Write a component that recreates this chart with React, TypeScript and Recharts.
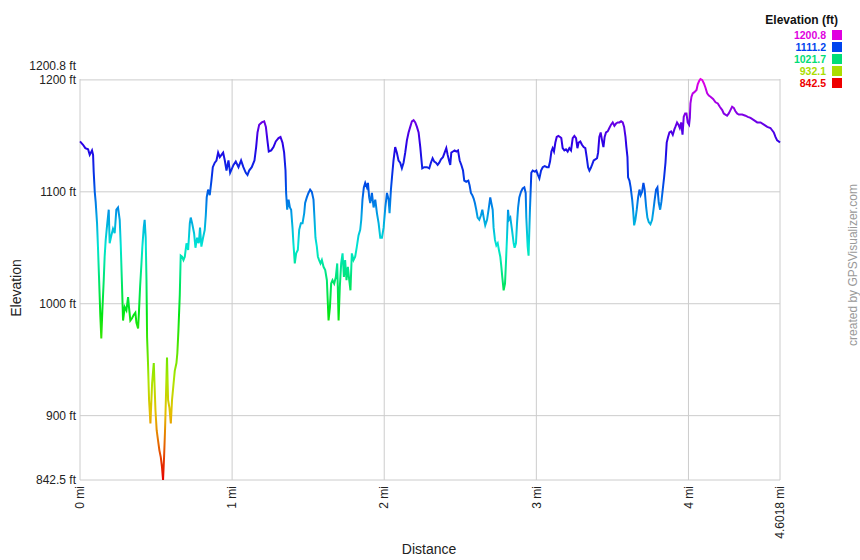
import { CartesianGrid, Line, LineChart, ReferenceLine, XAxis, YAxis } from 'recharts'

// elevation profile
const distanceMi = [
  0, 0.02, 0.035, 0.053, 0.064, 0.079, 0.086, 0.09, 0.097, 0.103, 0.112, 0.118, 0.125, 0.134, 0.14, 0.147, 0.156,
  0.162, 0.169, 0.178, 0.189, 0.195, 0.206, 0.217, 0.228, 0.239, 0.25, 0.261, 0.268, 0.276, 0.283, 0.294, 0.305,
  0.316, 0.322, 0.331, 0.342, 0.353, 0.364, 0.371, 0.382, 0.388, 0.395, 0.404, 0.41, 0.419, 0.425, 0.432, 0.437,
  0.441, 0.447, 0.454, 0.463, 0.474, 0.485, 0.496, 0.504, 0.513, 0.522, 0.531, 0.539, 0.546, 0.553, 0.559, 0.566,
  0.572, 0.579, 0.588, 0.597, 0.605, 0.614, 0.623, 0.634, 0.64, 0.647, 0.656, 0.662, 0.671, 0.68, 0.689, 0.7,
  0.711, 0.722, 0.728, 0.737, 0.75, 0.759, 0.77, 0.781, 0.789, 0.798, 0.809, 0.82, 0.827, 0.833, 0.842, 0.853,
  0.864, 0.873, 0.886, 0.897, 0.908, 0.919, 0.93, 0.941, 0.952, 0.963, 0.976, 0.987, 1.009, 1.024, 1.042, 1.059,
  1.074, 1.09, 1.101, 1.112, 1.129, 1.147, 1.158, 1.167, 1.178, 1.195, 1.211, 1.222, 1.232, 1.241, 1.257, 1.272,
  1.287, 1.305, 1.318, 1.331, 1.342, 1.351, 1.355, 1.362, 1.371, 1.38, 1.388, 1.397, 1.403, 1.412, 1.421, 1.432,
  1.441, 1.452, 1.463, 1.474, 1.48, 1.491, 1.502, 1.513, 1.524, 1.535, 1.542, 1.548, 1.557, 1.564, 1.572, 1.581,
  1.59, 1.601, 1.612, 1.623, 1.634, 1.643, 1.651, 1.66, 1.671, 1.682, 1.691, 1.7, 1.708, 1.717, 1.726, 1.735,
  1.743, 1.752, 1.761, 1.77, 1.778, 1.787, 1.798, 1.809, 1.82, 1.831, 1.842, 1.849, 1.857, 1.866, 1.875, 1.886,
  1.893, 1.901, 1.908, 1.919, 1.93, 1.941, 1.952, 1.963, 1.974, 1.985, 1.996, 2.007, 2.018, 2.029, 2.035, 2.044,
  2.051, 2.061, 2.072, 2.083, 2.094, 2.105, 2.116, 2.127, 2.138, 2.149, 2.16, 2.171, 2.182, 2.193, 2.204, 2.215,
  2.226, 2.237, 2.243, 2.25, 2.263, 2.281, 2.296, 2.307, 2.318, 2.329, 2.34, 2.351, 2.362, 2.373, 2.386, 2.397,
  2.408, 2.417, 2.426, 2.434, 2.441, 2.452, 2.463, 2.474, 2.485, 2.496, 2.507, 2.518, 2.526, 2.539, 2.553, 2.561,
  2.57, 2.579, 2.588, 2.596, 2.605, 2.614, 2.625, 2.636, 2.645, 2.654, 2.664, 2.676, 2.686, 2.697, 2.704, 2.713,
  2.719, 2.728, 2.737, 2.746, 2.754, 2.763, 2.77, 2.776, 2.785, 2.794, 2.8, 2.807, 2.814, 2.82, 2.829, 2.84,
  2.851, 2.857, 2.866, 2.873, 2.88, 2.888, 2.899, 2.91, 2.921, 2.93, 2.934, 2.943, 2.949, 2.954, 2.958, 2.967,
  2.976, 2.989, 3.0, 3.011, 3.02, 3.031, 3.042, 3.055, 3.07, 3.081, 3.09, 3.099, 3.107, 3.116, 3.125, 3.134,
  3.145, 3.156, 3.164, 3.173, 3.184, 3.195, 3.206, 3.217, 3.228, 3.239, 3.25, 3.261, 3.27, 3.278, 3.289, 3.3,
  3.311, 3.322, 3.331, 3.34, 3.349, 3.357, 3.366, 3.377, 3.388, 3.399, 3.406, 3.414, 3.423, 3.432, 3.441, 3.449,
  3.458, 3.469, 3.48, 3.491, 3.502, 3.513, 3.524, 3.535, 3.546, 3.557, 3.568, 3.577, 3.586, 3.592, 3.599, 3.603,
  3.612, 3.62, 3.63, 3.636, 3.643, 3.651, 3.66, 3.669, 3.678, 3.686, 3.695, 3.704, 3.712, 3.722, 3.73, 3.739,
  3.75, 3.761, 3.77, 3.778, 3.787, 3.796, 3.805, 3.814, 3.822, 3.831, 3.84, 3.849, 3.857, 3.866, 3.875, 3.886,
  3.897, 3.908, 3.914, 3.925, 3.934, 3.943, 3.952, 3.961, 3.969, 3.978, 3.987, 3.995, 4.004, 4.009, 4.013, 4.02,
  4.028, 4.039, 4.053, 4.061, 4.07, 4.079, 4.09, 4.101, 4.112, 4.123, 4.134, 4.145, 4.162, 4.178, 4.193, 4.206,
  4.222, 4.232, 4.243, 4.254, 4.265, 4.276, 4.287, 4.298, 4.309, 4.32, 4.331, 4.353, 4.375, 4.39, 4.408, 4.43,
  4.452, 4.474, 4.496, 4.518, 4.539, 4.55, 4.561, 4.572, 4.583, 4.594, 4.6018,
]

const elevationFt = [
  1145, 1142, 1139, 1138, 1133, 1137, 1133, 1118, 1100, 1091, 1072, 1051, 1024, 988, 969, 994, 1021,
  1042, 1057, 1070, 1084, 1054, 1061, 1067, 1063, 1084, 1086, 1075, 1052, 1017, 985, 997, 994,
  1006, 997, 985, 987, 990, 992, 983, 978, 994, 1015, 1036, 1051, 1068, 1075, 1059, 1021,
  970, 947, 914, 893, 929, 947, 905, 887, 878, 869, 863, 854, 842.5, 864, 887, 922,
  952, 914, 907, 893, 914, 927, 940, 947, 956, 976, 1008, 1043, 1042, 1039, 1042, 1054,
  1048, 1072, 1077, 1072, 1063, 1050, 1059, 1054, 1068, 1051, 1059, 1066, 1079, 1095, 1102, 1097,
  1110, 1122, 1126, 1128, 1135, 1131, 1133, 1135, 1128, 1119, 1128, 1117, 1124, 1127, 1122, 1128,
  1122, 1117, 1115, 1119, 1122, 1128, 1140, 1153, 1160, 1162, 1163, 1158, 1146, 1136, 1137, 1140,
  1145, 1148, 1149, 1144, 1135, 1119, 1099, 1084, 1093, 1086, 1084, 1068, 1054, 1036, 1045, 1048,
  1066, 1072, 1072, 1081, 1090, 1095, 1099, 1102, 1100, 1093, 1075, 1059, 1051, 1042, 1039, 1036,
  1039, 1033, 1030, 1021, 985, 997, 1018, 1021, 1018, 1024, 1036, 985, 1015, 1036, 1045, 1024,
  1039, 1021, 1033, 1021, 1012, 1045, 1039, 1042, 1051, 1061, 1066, 1075, 1093, 1104, 1108, 1104,
  1108, 1095, 1090, 1099, 1086, 1093, 1081, 1072, 1059, 1059, 1068, 1086, 1099, 1093, 1081, 1102,
  1113, 1128, 1140, 1135, 1128, 1126, 1121, 1126, 1135, 1146, 1153, 1158, 1163, 1164, 1162, 1158,
  1153, 1140, 1131, 1121, 1122, 1122, 1121, 1126, 1130, 1127, 1126, 1124, 1126, 1129, 1131, 1135,
  1139, 1133, 1128, 1124, 1135, 1136, 1137, 1136, 1137, 1128, 1124, 1119, 1110, 1109, 1110, 1106,
  1099, 1097, 1094, 1090, 1084, 1077, 1075, 1079, 1084, 1077, 1070, 1075, 1084, 1095, 1090, 1084,
  1068, 1057, 1052, 1054, 1048, 1042, 1033, 1024, 1012, 1018, 1036, 1059, 1084, 1075, 1077, 1066,
  1054, 1050, 1054, 1072, 1086, 1095, 1100, 1103, 1104, 1099, 1077, 1051, 1043, 1066, 1084, 1117,
  1119, 1118, 1119, 1115, 1112, 1119, 1122, 1123, 1122, 1122, 1127, 1136, 1139, 1136, 1144, 1149,
  1150, 1149, 1148, 1139, 1137, 1138, 1136, 1139, 1137, 1148, 1150, 1148, 1139, 1144, 1145, 1142,
  1140, 1139, 1131, 1122, 1119, 1121, 1124, 1128, 1129, 1130, 1135, 1149, 1153, 1146, 1140, 1149,
  1153, 1154, 1157, 1160, 1162, 1159, 1161, 1162, 1162, 1163, 1162, 1158, 1149, 1140, 1131, 1113,
  1110, 1104, 1093, 1084, 1070, 1075, 1084, 1095, 1102, 1097, 1100, 1108, 1102, 1086, 1077, 1073,
  1071, 1075, 1084, 1093, 1102, 1104, 1090, 1084, 1091, 1102, 1113, 1126, 1144, 1149, 1153, 1154,
  1151, 1156, 1158, 1162, 1160, 1157, 1162, 1151, 1167, 1170, 1170, 1162, 1160, 1166, 1179, 1185,
  1188, 1189, 1191, 1196, 1199, 1200.8, 1200, 1197, 1193, 1188, 1186, 1185, 1183, 1180, 1179, 1176,
  1173, 1170, 1169, 1168, 1170, 1173, 1176, 1175, 1172, 1170, 1169, 1169, 1168, 1167, 1166, 1164,
  1162, 1162, 1160, 1158, 1157, 1155, 1153, 1149, 1146, 1145, 1144,
]

const xTicks = [0, 1, 2, 3, 4, 4.6018]
const yTicks = [842.5, 900, 1000, 1100, 1200, 1200.8]
const gridX = [1, 2, 3, 4]
const gridY = [900, 1000, 1100, 1200]
const legendValues = ['1200.8', '1111.2', '1021.7', '932.1', '842.5']
const legendColors = ['#e000e0', '#0044ee', '#00dd77', '#aadd00', '#ee0000']

const minElev = 842.5
const maxElev = 1200.8

const profile = distanceMi.map((d, i) => ({ d, e: elevationFt[i] }))

const font = '"Liberation Sans", Arial, sans-serif'
const gridColor = '#cccccc'

function YTick(props: any) {
  const { x, y, payload } = props
  const isMax = payload.value === maxElev
  return (
    <text x={x} y={y} dy={isMax ? -12.6 : 0} dominantBaseline="central" textAnchor="end"
      fontSize={12} fontFamily={font} fill="#222">
      {payload.value} ft
    </text>
  )
}

function XTick(props: any) {
  const { x, y, payload } = props
  return (
    <g transform={`translate(${x},${y})`}>
      <text transform="rotate(-90)" textAnchor="end" dy="0.35em" fontSize={12} fontFamily={font} fill="#222">
        {payload.value} mi
      </text>
    </g>
  )
}

// hue runs red (lowest) -> magenta (highest), like GPSVisualizer's colouring
const gradStops = Array.from({ length: 13 }, (_, i) => i / 12)

export default function App() {
  return (
    <div style={{ position: 'absolute', left: 0, top: 0, width: 860, height: 560, background: '#fff', fontFamily: font }}>
      <LineChart width={860} height={560} data={profile} margin={{ top: 79, right: 80, bottom: 0, left: 0 }}>
        <defs>
          <linearGradient id="elevGrad" x1="0" y1="0" x2="0" y2="1">
            {gradStops.map((o) => (
              <stop key={o} offset={o} stopColor={`hsl(${300 * (1 - o)}, 100%, 45%)`} />
            ))}
          </linearGradient>
        </defs>
        <CartesianGrid stroke={gridColor} horizontalValues={gridY} verticalValues={gridX} />
        <XAxis dataKey="d" type="number" domain={[0, 4.6018]} ticks={xTicks} interval={0}
          axisLine={false} tickLine={false} tickSize={4} tickMargin={2} height={80} tick={<XTick />} />
        <YAxis type="number" domain={[minElev, maxElev]} ticks={yTicks} interval={0}
          axisLine={false} tickLine={false} tickSize={4} tickMargin={0} width={80} tick={<YTick />} />
        <ReferenceLine x={0} stroke={gridColor} />
        <ReferenceLine x={4.6018} stroke={gridColor} />
        <ReferenceLine y={minElev} stroke={gridColor} />
        <Line dataKey="e" type="linear" stroke="url(#elevGrad)" strokeWidth={2} dot={false}
          activeDot={false} isAnimationActive={false} />
      </LineChart>

      <div style={{ position: 'absolute', left: 16, top: 288, transform: 'translate(-50%,-50%) rotate(-90deg)', fontSize: 14, color: '#222', whiteSpace: 'nowrap' }}>
        Elevation
      </div>
      <div style={{ position: 'absolute', left: 429, top: 549, transform: 'translate(-50%,-50%)', fontSize: 14, color: '#222' }}>
        Distance
      </div>
      <div style={{ position: 'absolute', left: 853, top: 265, transform: 'translate(-50%,-50%) rotate(-90deg)', fontSize: 12, color: '#999', whiteSpace: 'nowrap' }}>
        created by GPSVisualizer.com
      </div>

      <div style={{ position: 'absolute', right: 22, top: 13, fontSize: 12, lineHeight: '14px', fontWeight: 'bold', color: '#111' }}>
        Elevation (ft)
      </div>
      {legendValues.map((v, i) => (
        <div key={v} style={{ position: 'absolute', right: 18, top: 28.5 + i * 12, display: 'flex', alignItems: 'center', height: 12 }}>
          <span style={{ fontSize: 10.5, lineHeight: '12px', fontWeight: 'bold', color: legendColors[i], marginRight: 6 }}>{v}</span>
          <span style={{ width: 10, height: 10, background: legendColors[i], display: 'inline-block' }} />
        </div>
      ))}
    </div>
  )
}
